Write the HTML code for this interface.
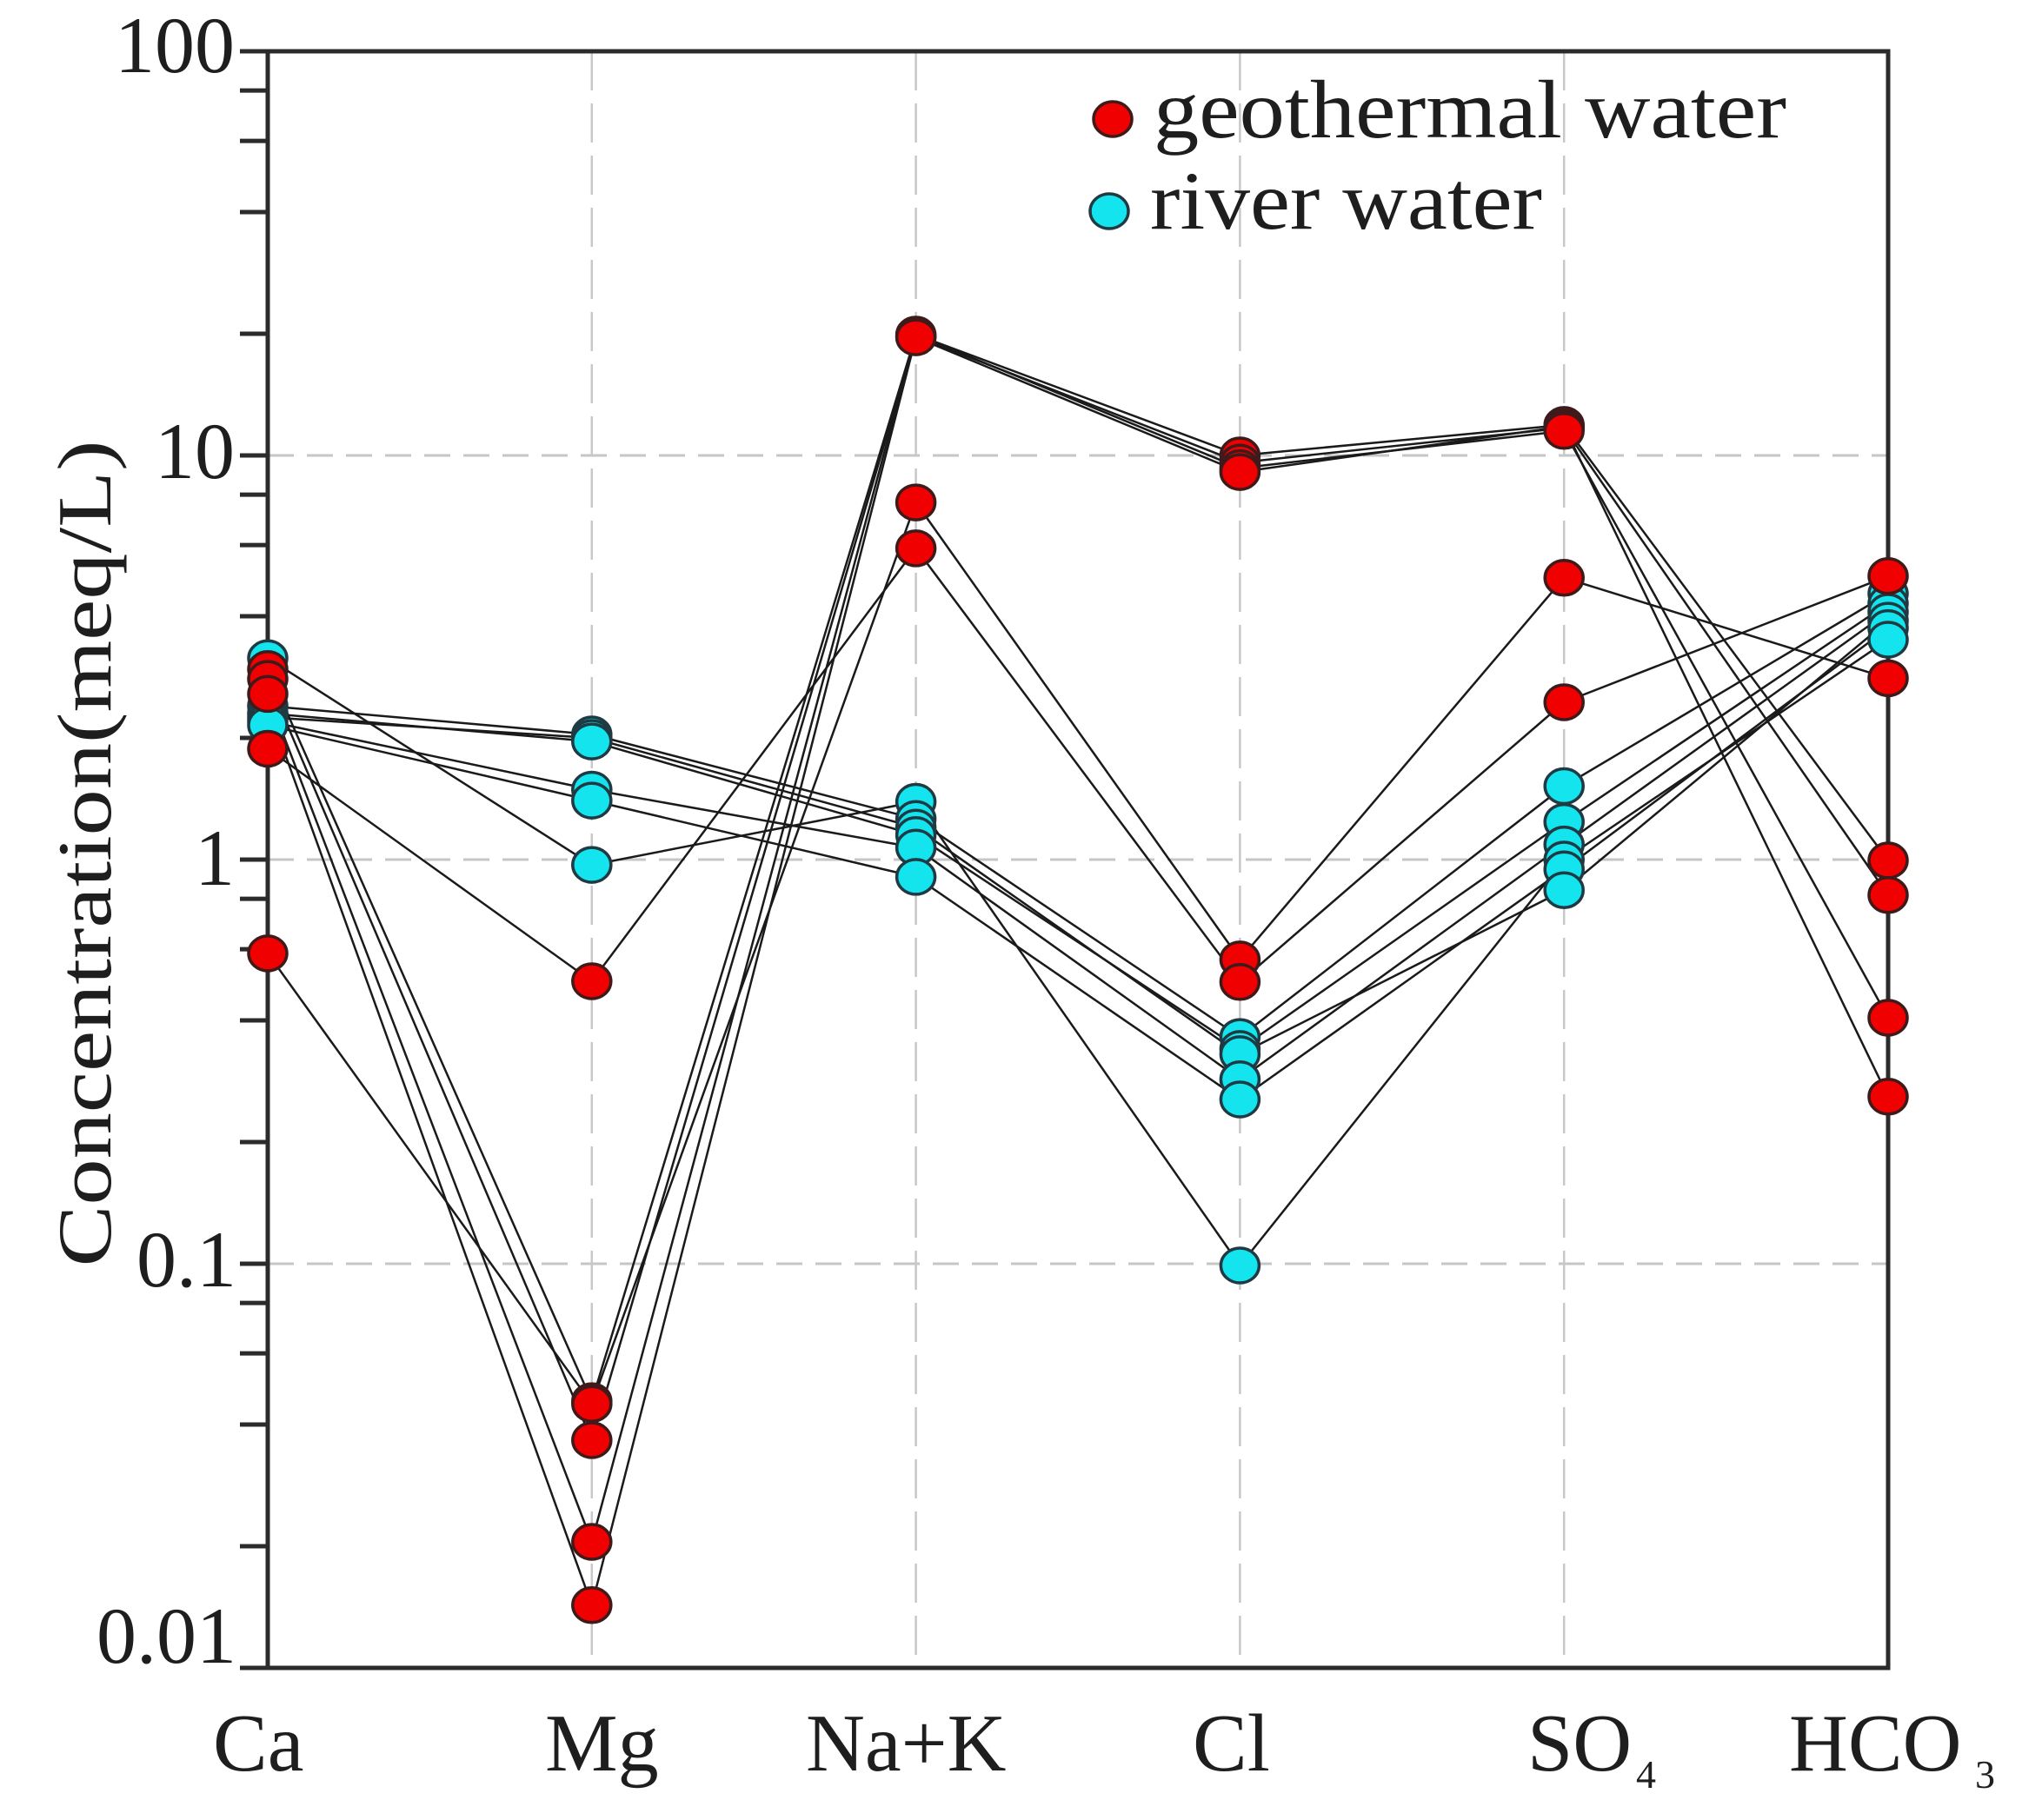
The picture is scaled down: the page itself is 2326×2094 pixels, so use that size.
<!DOCTYPE html>
<html>
<head>
<meta charset="utf-8">
<style>
  html,body{margin:0;padding:0;background:#fff;}
  svg{display:block;}
  text{font-family:"Liberation Serif","Times New Roman",serif;fill:#1e1e1e;}
</style>
</head>
<body>
<svg width="2326" height="2094" viewBox="0 0 2326 2094" xmlns="http://www.w3.org/2000/svg">
  <rect x="0" y="0" width="2326" height="2094" fill="#ffffff"/>

  <!-- grid lines -->
  <g stroke="#c6c6c6" stroke-width="3" fill="none">
    <line x1="308" y1="524" x2="2172" y2="524" stroke-dasharray="30,15"/>
    <line x1="308" y1="989" x2="2172" y2="989" stroke-dasharray="30,15"/>
    <line x1="308" y1="1454" x2="2172" y2="1454" stroke-dasharray="30,15"/>
  </g>
  <g stroke="#c8c8c8" stroke-width="2.5" fill="none" stroke-dasharray="45,15">
    <line x1="680.8" y1="59" x2="680.8" y2="1919"/>
    <line x1="1053.6" y1="59" x2="1053.6" y2="1919"/>
    <line x1="1426.4" y1="59" x2="1426.4" y2="1919"/>
    <line x1="1799.2" y1="59" x2="1799.2" y2="1919"/>
  </g>

  <!-- data lines -->
  <g stroke="#1a1a1a" stroke-width="2.5" fill="none" stroke-linejoin="round">
    <polyline points="308,769.8 680.8,1612.1 1053.6,385.0 1426.4,524 1799.2,488.9 2172,990.0"/>
    <polyline points="308,781.1 680.8,1657.0 1053.6,387.1 1426.4,532.2 1799.2,492.3 2172,1029.8"/>
    <polyline points="308,798.4 680.8,1774.0 1053.6,385.0 1426.4,538.6 1799.2,495.8 2172,1171.0"/>
    <polyline points="308,812.2 680.8,1846.8 1053.6,388.1 1426.4,543.1 1799.2,490.6 2172,1261.8"/>
    <polyline points="308,1096.9 680.8,1615.3 1053.6,578.1 1426.4,1103.9 1799.2,664.8 2172,780.4"/>
    <polyline points="308,861.5 680.8,1129.0 1053.6,630.9 1426.4,1129.8 1799.2,808.0 2172,662.8"/>
    <polyline points="308,757.3 680.8,995.1 1053.6,922.5 1426.4,1456.0 1799.2,989 2172,736.0"/>
    <polyline points="308,812.2 680.8,845.0 1053.6,942.3 1426.4,1193.1 1799.2,904.5 2172,683.0"/>
    <polyline points="308,820.8 680.8,853.1 1053.6,960.8 1426.4,1206.9 1799.2,945.6 2172,694.4"/>
    <polyline points="308,829.8 680.8,908.5 1053.6,975.3 1426.4,1241.8 1799.2,971.6 2172,704.0"/>
    <polyline points="308,834.4 680.8,921.1 1053.6,1008.9 1426.4,1265.0 1799.2,1000.2 2172,722.6"/>
    <polyline points="308,825.2 680.8,849.0 1053.6,952.2 1426.4,1212.9 1799.2,1024.2 2172,714.1"/>
  </g>

  <!-- axes frame -->
  <rect x="308" y="59" width="1864" height="1860" fill="none" stroke="#2b2b2b" stroke-width="5"/>
  <!-- ticks -->
  <path d="M276,59H308 M276,524H308 M276,989H308 M276,1454H308 M276,1919H308
           M276,104.1H308 M276,162.1H308 M276,244H308 M276,384H308
           M276,569.1H308 M276,627.1H308 M276,709H308 M276,849H308
           M276,1034.1H308 M276,1092.1H308 M276,1174H308 M276,1314H308
           M276,1499.1H308 M276,1557.1H308 M276,1639H308 M276,1779H308"
        stroke="#2b2b2b" stroke-width="5" fill="none"/>

  <!-- river water markers (cyan) -->
  <g fill="#14e4ee" stroke="#1f3a42" stroke-width="3.5">
    <ellipse cx="308" cy="757.3" rx="22" ry="20"/>
    <ellipse cx="308" cy="812.2" rx="22" ry="20"/>
    <ellipse cx="308" cy="820.8" rx="22" ry="20"/>
    <ellipse cx="308" cy="825.2" rx="22" ry="20"/>
    <ellipse cx="308" cy="829.8" rx="22" ry="20"/>
    <ellipse cx="308" cy="834.4" rx="22" ry="20"/>

    <ellipse cx="680.8" cy="845.0" rx="22" ry="20"/>
    <ellipse cx="680.8" cy="849.0" rx="22" ry="20"/>
    <ellipse cx="680.8" cy="853.1" rx="22" ry="20"/>
    <ellipse cx="680.8" cy="908.5" rx="22" ry="20"/>
    <ellipse cx="680.8" cy="921.1" rx="22" ry="20"/>
    <ellipse cx="680.8" cy="995.1" rx="22" ry="20"/>

    <ellipse cx="1053.6" cy="922.5" rx="22" ry="20"/>
    <ellipse cx="1053.6" cy="942.3" rx="22" ry="20"/>
    <ellipse cx="1053.6" cy="952.2" rx="22" ry="20"/>
    <ellipse cx="1053.6" cy="960.8" rx="22" ry="20"/>
    <ellipse cx="1053.6" cy="975.3" rx="22" ry="20"/>
    <ellipse cx="1053.6" cy="1008.9" rx="22" ry="20"/>

    <ellipse cx="1426.4" cy="1193.1" rx="22" ry="20"/>
    <ellipse cx="1426.4" cy="1206.9" rx="22" ry="20"/>
    <ellipse cx="1426.4" cy="1212.9" rx="22" ry="20"/>
    <ellipse cx="1426.4" cy="1241.8" rx="22" ry="20"/>
    <ellipse cx="1426.4" cy="1265.0" rx="22" ry="20"/>
    <ellipse cx="1426.4" cy="1456.0" rx="22" ry="20"/>

    <ellipse cx="1799.2" cy="904.5" rx="22" ry="20"/>
    <ellipse cx="1799.2" cy="945.6" rx="22" ry="20"/>
    <ellipse cx="1799.2" cy="971.6" rx="22" ry="20"/>
    <ellipse cx="1799.2" cy="989" rx="22" ry="20"/>
    <ellipse cx="1799.2" cy="1000.2" rx="22" ry="20"/>
    <ellipse cx="1799.2" cy="1024.2" rx="22" ry="20"/>

    <ellipse cx="2172" cy="683.0" rx="22" ry="20"/>
    <ellipse cx="2172" cy="694.4" rx="22" ry="20"/>
    <ellipse cx="2172" cy="704.0" rx="22" ry="20"/>
    <ellipse cx="2172" cy="714.1" rx="22" ry="20"/>
    <ellipse cx="2172" cy="722.6" rx="22" ry="20"/>
    <ellipse cx="2172" cy="736.0" rx="22" ry="20"/>
  </g>

  <!-- geothermal water markers (red) -->
  <g fill="#f00000" stroke="#3e1a1a" stroke-width="3.5">
    <ellipse cx="308" cy="769.8" rx="22" ry="20"/>
    <ellipse cx="308" cy="781.1" rx="22" ry="20"/>
    <ellipse cx="308" cy="798.4" rx="22" ry="20"/>
    <ellipse cx="308" cy="861.5" rx="22" ry="20"/>
    <ellipse cx="308" cy="1096.9" rx="22" ry="20"/>

    <ellipse cx="680.8" cy="1129.0" rx="22" ry="20"/>
    <ellipse cx="680.8" cy="1612.1" rx="22" ry="20"/>
    <ellipse cx="680.8" cy="1615.3" rx="22" ry="20"/>
    <ellipse cx="680.8" cy="1657.0" rx="22" ry="20"/>
    <ellipse cx="680.8" cy="1774.0" rx="22" ry="20"/>
    <ellipse cx="680.8" cy="1846.8" rx="22" ry="20"/>

    <ellipse cx="1053.6" cy="385.0" rx="22" ry="20"/>
    <ellipse cx="1053.6" cy="387.1" rx="22" ry="20"/>
    <ellipse cx="1053.6" cy="388.1" rx="22" ry="20"/>
    <ellipse cx="1053.6" cy="578.1" rx="22" ry="20"/>
    <ellipse cx="1053.6" cy="630.9" rx="22" ry="20"/>

    <ellipse cx="1426.4" cy="524" rx="22" ry="20"/>
    <ellipse cx="1426.4" cy="532.2" rx="22" ry="20"/>
    <ellipse cx="1426.4" cy="538.6" rx="22" ry="20"/>
    <ellipse cx="1426.4" cy="543.1" rx="22" ry="20"/>
    <ellipse cx="1426.4" cy="1103.9" rx="22" ry="20"/>
    <ellipse cx="1426.4" cy="1129.8" rx="22" ry="20"/>

    <ellipse cx="1799.2" cy="488.9" rx="22" ry="20"/>
    <ellipse cx="1799.2" cy="490.6" rx="22" ry="20"/>
    <ellipse cx="1799.2" cy="492.3" rx="22" ry="20"/>
    <ellipse cx="1799.2" cy="495.8" rx="22" ry="20"/>
    <ellipse cx="1799.2" cy="664.8" rx="22" ry="20"/>
    <ellipse cx="1799.2" cy="808.0" rx="22" ry="20"/>

    <ellipse cx="2172" cy="662.8" rx="22" ry="20"/>
    <ellipse cx="2172" cy="780.4" rx="22" ry="20"/>
    <ellipse cx="2172" cy="990.0" rx="22" ry="20"/>
    <ellipse cx="2172" cy="1029.8" rx="22" ry="20"/>
    <ellipse cx="2172" cy="1171.0" rx="22" ry="20"/>
    <ellipse cx="2172" cy="1261.8" rx="22" ry="20"/>
  </g>

  <!-- y tick labels -->
  <g font-size="92" text-anchor="end">
    <text x="270" y="83">100</text>
    <text x="270" y="550">10</text>
    <text x="270" y="1018">1</text>
    <text x="272" y="1480">0.1</text>
    <text x="272" y="1913">0.01</text>
  </g>

  <!-- x category labels -->
  <g font-size="94">
    <text x="245" y="2037">Ca</text>
    <text x="627" y="2037">Mg</text>
    <text x="927" y="2037">Na+K</text>
    <text x="1372" y="2037">Cl</text>
    <text x="1757" y="2037">SO</text>
    <text x="2058" y="2037">HCO</text>
  </g>
  <g font-size="46">
    <text x="1882" y="2057">4</text>
    <text x="2272" y="2057">3</text>
  </g>

  <!-- y axis title -->
  <text transform="translate(127,982) rotate(-90)" text-anchor="middle" font-size="88" textLength="951" lengthAdjust="spacingAndGlyphs">Concentration(meq/L)</text>

  <!-- legend -->
  <ellipse cx="1280" cy="137" rx="22" ry="20" fill="#f00000" stroke="#3e1a1a" stroke-width="3.5"/>
  <text x="1327" y="158" font-size="95" textLength="728" lengthAdjust="spacingAndGlyphs">geothermal water</text>
  <ellipse cx="1276" cy="243" rx="22" ry="20" fill="#14e4ee" stroke="#1f3a42" stroke-width="3.5"/>
  <text x="1323" y="263" font-size="95" textLength="451" lengthAdjust="spacingAndGlyphs">river water</text>
</svg>
</body>
</html>
